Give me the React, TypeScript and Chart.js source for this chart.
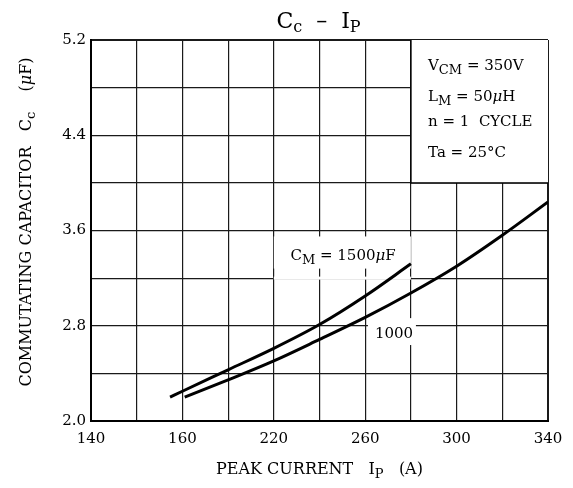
import React, { useEffect, useRef } from "react";
import { Chart, registerables } from "chart.js";

Chart.register(...registerables);

// ---- data ----
const X_1500 = [174.6, 180, 200, 220, 240, 260, 280];
const Y_1500 = [2.2, 2.25, 2.43, 2.61, 2.81, 3.05, 3.32];
const X_1000 = [181, 200, 220, 240, 260, 280, 300, 320, 340];
const Y_1000 = [2.2, 2.345, 2.505, 2.685, 2.87, 3.075, 3.3, 3.56, 3.84];

const X_TICK_VALUES = [140, 180, 220, 260, 300, 340];
const X_TICK_LABELS = ["140", "160", "220", "260", "300", "340"];
const Y_TICK_VALUES = [2.0, 2.8, 3.6, 4.4, 5.2];
const Y_TICK_LABELS = ["2.0", "2.8", "3.6", "4.4", "5.2"];

const FONT = "'DejaVu Serif', 'Liberation Serif', serif";

type Part = [string, number, boolean?]; // text, isSub, italic

function drawRich(
  ctx: CanvasRenderingContext2D,
  parts: Part[],
  x: number,
  y: number,
  size: number,
  subSize: number,
  subDrop: number,
  align: "left" | "center"
) {
  const fontOf = (p: Part) =>
    `${p[2] ? "italic " : ""}${p[1] ? subSize : size}px ${FONT}`;
  let total = 0;
  for (const p of parts) {
    ctx.font = fontOf(p);
    total += ctx.measureText(p[0]).width;
  }
  let cx = align === "center" ? x - total / 2 : x;
  ctx.textAlign = "left";
  ctx.textBaseline = "alphabetic";
  for (const p of parts) {
    ctx.font = fontOf(p);
    ctx.fillText(p[0], cx, y + (p[1] ? subDrop : 0));
    cx += ctx.measureText(p[0]).width;
  }
}

const decorPlugin = {
  id: "decor",
  beforeDatasetsDraw(chart: any) {
    const ctx: CanvasRenderingContext2D = chart.ctx;
    const xs = chart.scales.x;
    const ys = chart.scales.y;
    const px = (v: number) => xs.getPixelForValue(v);
    const py = (v: number) => ys.getPixelForValue(v);
    ctx.save();
    // condition box
    const bx0 = px(280), bx1 = px(340), by0 = py(5.2), by1 = py(4.0);
    ctx.fillStyle = "#fff";
    ctx.fillRect(bx0, by0, bx1 - bx0, by1 - by0);
    ctx.strokeStyle = "#000";
    ctx.lineWidth = 1.5;
    ctx.beginPath();
    ctx.moveTo(bx0, by0);
    ctx.lineTo(bx0, by1);
    ctx.lineTo(bx1, by1);
    ctx.stroke();
    ctx.fillStyle = "#000";
    const tx = px(287.5);
    drawRich(ctx, [["V", 0], ["CM", 1], [" = 350V", 0]], tx, py(4.95), 15, 13, 4, "left");
    drawRich(ctx, [["L", 0], ["M", 1], [" = 50", 0], ["μ", 0, true], ["H", 0]], tx, py(4.685), 15, 13, 4, "left");
    drawRich(ctx, [["n = 1  CYCLE", 0]], tx, py(4.475), 15, 13, 4, "left");
    drawRich(ctx, [["Ta = 25°C", 0]], tx, py(4.22), 15, 13, 4, "left");

    // label 1500 box
    ctx.fillStyle = "#fff";
    ctx.fillRect(px(220), py(3.55), px(280) - px(220), py(3.28) - py(3.55));
    ctx.fillRect(px(220), py(3.2) - 1.5, px(280) - px(220), 3);
    ctx.fillStyle = "#000";
    drawRich(ctx, [["C", 0], ["M", 1], [" = 1500", 0], ["μ", 0, true], ["F", 0]], px(250.3), py(3.35), 15, 13, 4, "center");
    // label 1000 box
    ctx.fillStyle = "#fff";
    ctx.fillRect(px(261.2), py(2.864), px(282.2) - px(261.2), py(2.638) - py(2.864));
    ctx.fillStyle = "#000";
    drawRich(ctx, [["1000", 0]], px(272.6), py(2.695), 15, 13, 4, "center");
    ctx.restore();
  },
  afterDraw(chart: any) {
    const ctx: CanvasRenderingContext2D = chart.ctx;
    const area = chart.chartArea;
    const cxm = (area.left + area.right) / 2;
    ctx.save();
    ctx.fillStyle = "#000";
    drawRich(ctx, [["C", 0], ["c", 1], ["  –  I", 0], ["P", 1]], cxm - 1, 28, 22, 16, 4, "center");
    drawRich(ctx, [["PEAK CURRENT   I", 0], ["P", 1], ["   (A)", 0]], cxm, 474, 16, 13, 4, "center");
    ctx.translate(31, 222);
    ctx.rotate(-Math.PI / 2);
    drawRich(
      ctx,
      [["COMMUTATING CAPACITOR   C", 0], ["c", 1], ["    (", 0], ["μ", 0, true], ["F)", 0]],
      0,
      0,
      16,
      13,
      4,
      "center"
    );
    ctx.restore();
  },
};

export default function App() {
  const ref = useRef<HTMLCanvasElement | null>(null);
  useEffect(() => {
    if (!ref.current) return;
    const gridWidth = (c: any) => {
      const n = c.scale.ticks.length;
      return c.index === 0 || c.index === n - 1 ? 2 : 1.2;
    };
    const chart = new Chart(ref.current, {
      type: "line",
      data: {
        datasets: [
          {
            label: "1500",
            data: X_1500.map((x, i) => ({ x, y: Y_1500[i] })),
            borderColor: "#000",
            borderWidth: 3,
            pointRadius: 0,
            cubicInterpolationMode: "monotone",
            fill: false,
          },
          {
            label: "1000",
            data: X_1000.map((x, i) => ({ x, y: Y_1000[i] })),
            borderColor: "#000",
            borderWidth: 3,
            pointRadius: 0,
            cubicInterpolationMode: "monotone",
            fill: false,
          },
        ],
      },
      options: {
        animation: false,
        responsive: false,
        layout: { padding: { top: 40, right: 25, left: 0, bottom: 0 } },
        plugins: {
          legend: { display: false },
          tooltip: { enabled: false },
          title: { display: false },
        },
        scales: {
          x: {
            type: "linear",
            min: 140,
            max: 340,
            afterFit: (s: any) => {
              s.height = 67;
            },
            ticks: {
              stepSize: 20,
              autoSkip: false,
              maxRotation: 0,
              padding: 9,
              color: "#000",
              font: { family: FONT, size: 15 },
              callback: (v: any) => {
                const i = X_TICK_VALUES.indexOf(Math.round(Number(v)));
                return i >= 0 ? X_TICK_LABELS[i] : "";
              },
            },
            grid: { color: "#1a1a1a", lineWidth: gridWidth, drawTicks: false },
            border: { display: true, color: "#000", width: 2 },
          },
          y: {
            type: "linear",
            min: 2.0,
            max: 5.2,
            afterFit: (s: any) => {
              s.width = 91;
            },
            ticks: {
              stepSize: 0.4,
              autoSkip: false,
              padding: 5,
              color: "#000",
              font: { family: FONT, size: 15 },
              callback: (v: any) => {
                const r = Math.round(Number(v) * 10) / 10;
                const i = Y_TICK_VALUES.indexOf(r);
                return i >= 0 ? Y_TICK_LABELS[i] : "";
              },
            },
            grid: { color: "#1a1a1a", lineWidth: gridWidth, drawTicks: false },
            border: { display: true, color: "#000", width: 2 },
          },
        },
      },
      plugins: [decorPlugin],
    } as any);
    return () => chart.destroy();
  }, []);
  return (
    <div style={{ position: "absolute", left: 0, top: 0, width: 573, height: 488, background: "#fff" }}>
      <canvas ref={ref} width={573} height={488} style={{ display: "block" }} />
    </div>
  );
}
